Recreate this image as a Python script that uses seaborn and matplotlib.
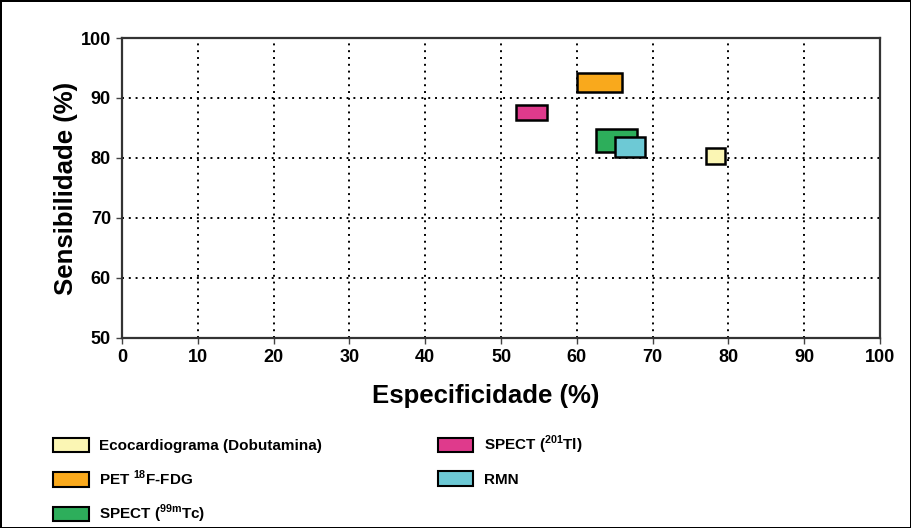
import numpy as np
import pandas as pd
import matplotlib
matplotlib.use('Agg')
import matplotlib.pyplot as plt
import seaborn as sns
from matplotlib.patches import Patch

# Faixas de especificidade / sensibilidade por método
metodos = ['Ecocardiograma (Dobutamina)', 'PET $^{\\mathbf{18}}$F-FDG',
           'SPECT ($^{\\mathbf{99m}}$Tc)', 'SPECT ($^{\\mathbf{201}}$Tl)', 'RMN']
espec_min = [77.0, 60.0, 62.5, 52.0, 65.0]
espec_max = [79.5, 66.0, 68.0, 56.0, 69.0]
sens_min = [79.0, 91.0, 81.0, 86.3, 80.2]
sens_max = [81.7, 94.2, 84.8, 88.8, 83.5]
cores = ['#FBF6B4', '#F9A91C', '#2DAE5B', '#DF3A8C', '#6DC9D5']

# ordem de desenho (verde antes do azul, que fica por cima)
ordem_desenho = [3, 1, 2, 4, 0]

sns.set_theme(style='white')
plt.rcParams['font.family'] = ['Liberation Sans', 'DejaVu Sans']
plt.rcParams['font.weight'] = 'bold'
plt.rcParams['text.color'] = 'black'
plt.rcParams['mathtext.fontset'] = 'custom'
plt.rcParams['mathtext.rm'] = 'Liberation Sans:bold'
plt.rcParams['mathtext.bf'] = 'Liberation Sans:bold'

df = pd.DataFrame({'metodo': metodos, 'x0': espec_min, 'x1': espec_max,
                   'y0': sens_min, 'y1': sens_max, 'cor': cores})

fig = plt.figure(figsize=(9.11, 5.28), dpi=100)
fig.patch.set_edgecolor('black')
fig.patch.set_linewidth(2)
ax = fig.add_axes([0.134, 0.360, 0.832, 0.568])

for i in ordem_desenho:
    r = df.iloc[i]
    ax.bar(r['x0'], r['y1'] - r['y0'], width=r['x1'] - r['x0'], bottom=r['y0'],
           align='edge', color=r['cor'], edgecolor='black', linewidth=1.8, zorder=3)

ax.set_xlim(0, 100)
ax.set_ylim(50, 100)
ax.set_xticks(np.arange(0, 101, 10))
ax.set_yticks(np.arange(50, 101, 10))
ax.grid(True, color='black', linestyle=(0, (1, 2.5)), linewidth=1.4, zorder=1)
ax.tick_params(axis='both', labelsize=13, length=4, width=1, color='#444444',
               labelcolor='black', bottom=True, left=True, direction='out', pad=4)
for lab in ax.get_xticklabels() + ax.get_yticklabels():
    lab.set_fontweight('bold')
for s in ax.spines.values():
    s.set_visible(True)
    s.set_color('#333333')
    s.set_linewidth(1.6)

ax.set_xlabel('Especificidade (%)', fontsize=18.5, fontweight='bold', color='black')
ax.xaxis.set_label_coords(0.48, -0.155)
ax.set_ylabel('Sensibilidade (%)', fontsize=18.5, fontweight='bold',
              color='black', labelpad=2)

handles = [Patch(facecolor=c, edgecolor='black', linewidth=1.5) for c in cores]
fig.legend(handles, metodos, loc='upper left', bbox_to_anchor=(0.052, 0.19),
           ncol=2, frameon=False, prop={'size': 11, 'weight': 'bold'},
           handlelength=2.3, handleheight=1.1, labelspacing=1.0,
           columnspacing=7.6, handletextpad=0.7, borderaxespad=0)

fig.savefig('out.png', dpi=100, edgecolor=fig.get_edgecolor())
